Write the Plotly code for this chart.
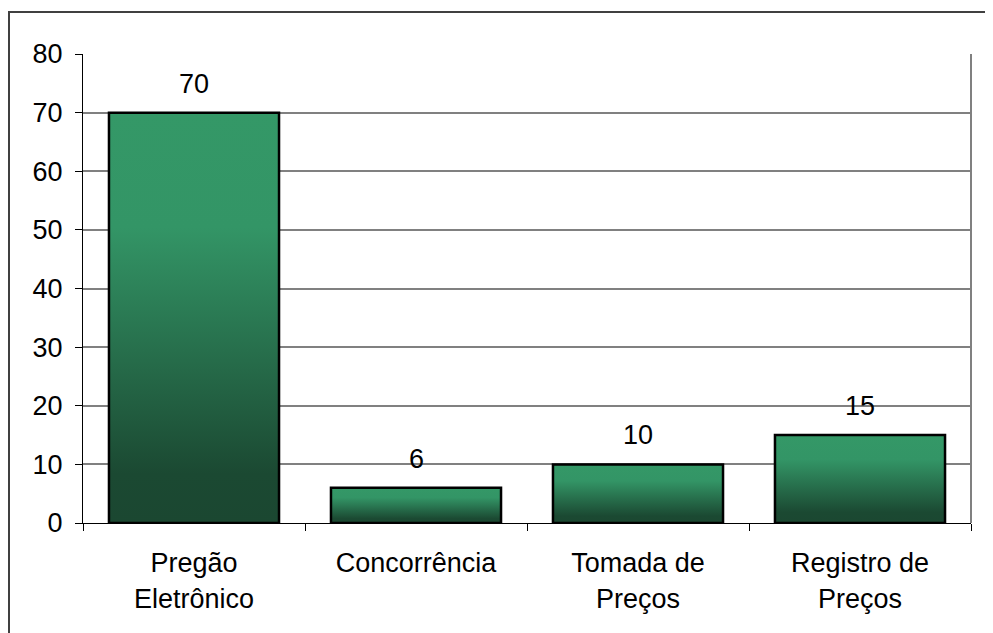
"""
Balkendiagramm Modalidades de licitação, im Excel-Stil mit Farbverlauf.
"""

import plotly.graph_objects as go

KATEGORIEN = ["Pregão<br>Eletrônico", "Concorrência", "Tomada de<br>Preços", "Registro de<br>Preços"]
WERTE = [70, 6, 10, 15]
Y_TICKS = [0, 10, 20, 30, 40, 50, 60, 70, 80]

BALKEN_BREITE = 0.766
SCHRIFT = "Liberation Sans, Arial, sans-serif"
VERLAUF = [[0, "#1B4731"], [0.12, "#1B4932"], [0.72, "#339566"], [1, "#349867"]]

fig = go.Figure()

# jeder Balken als gefülltes Rechteck, damit der vertikale Verlauf möglich ist
for i, wert in enumerate(WERTE):
    h = BALKEN_BREITE / 2
    fig.add_trace(go.Scatter(
        x=[i - h, i - h, i + h, i + h, i - h],
        y=[0, wert, wert, 0, 0],
        mode="lines", fill="toself",
        fillgradient=dict(type="vertical", colorscale=VERLAUF),
        line=dict(color="black", width=2.5),
        hoverinfo="skip", showlegend=False,
    ))
    fig.add_annotation(
        x=i, y=wert, text=str(wert), showarrow=False,
        yanchor="bottom", yshift=12,
        font=dict(family=SCHRIFT, size=27, color="black"),
    )

positionen = list(range(len(KATEGORIEN)))
grenzen = [p - 0.5 for p in positionen] + [positionen[-1] + 0.5]

fig.update_xaxes(
    range=[-0.5, len(KATEGORIEN) - 0.5],
    tickmode="array", tickvals=positionen, ticktext=KATEGORIEN,
    ticks="", showgrid=False, zeroline=False,
    showline=True, linecolor="black", linewidth=1,
    tickfont=dict(family=SCHRIFT, size=27, color="black"),
    ticklabelstandoff=16,
    minor=dict(tickmode="array", tickvals=grenzen, ticks="outside",
               ticklen=7, tickcolor="black", tickwidth=1, showgrid=False),
)
fig.update_yaxes(
    range=[0, 80], tickmode="array", tickvals=Y_TICKS,
    ticks="outside", ticklen=7, tickcolor="black",
    showgrid=True, gridcolor="#808080", gridwidth=1.5, zeroline=False,
    showline=True, linecolor="black", linewidth=1,
    tickfont=dict(family=SCHRIFT, size=27, color="black"),
    ticklabelstandoff=7,
)

# rechter Rand der Zeichenfläche und äußerer Rahmen
fig.add_shape(type="line", xref="paper", yref="paper", x0=1, x1=1, y0=0, y1=1,
              line=dict(color="#808080", width=2))
fig.add_shape(type="rect", xref="paper", yref="paper",
              x0=-74 / 888, x1=930 / 888, y0=-130 / 469, y1=511 / 469,
              line=dict(color="#404040", width=2))

fig.update_layout(
    width=993, height=633,
    margin=dict(l=75, r=30, t=46, b=118),
    plot_bgcolor="white", paper_bgcolor="white",
    font=dict(family=SCHRIFT, color="black"),
)

fig.write_html("out.html")
